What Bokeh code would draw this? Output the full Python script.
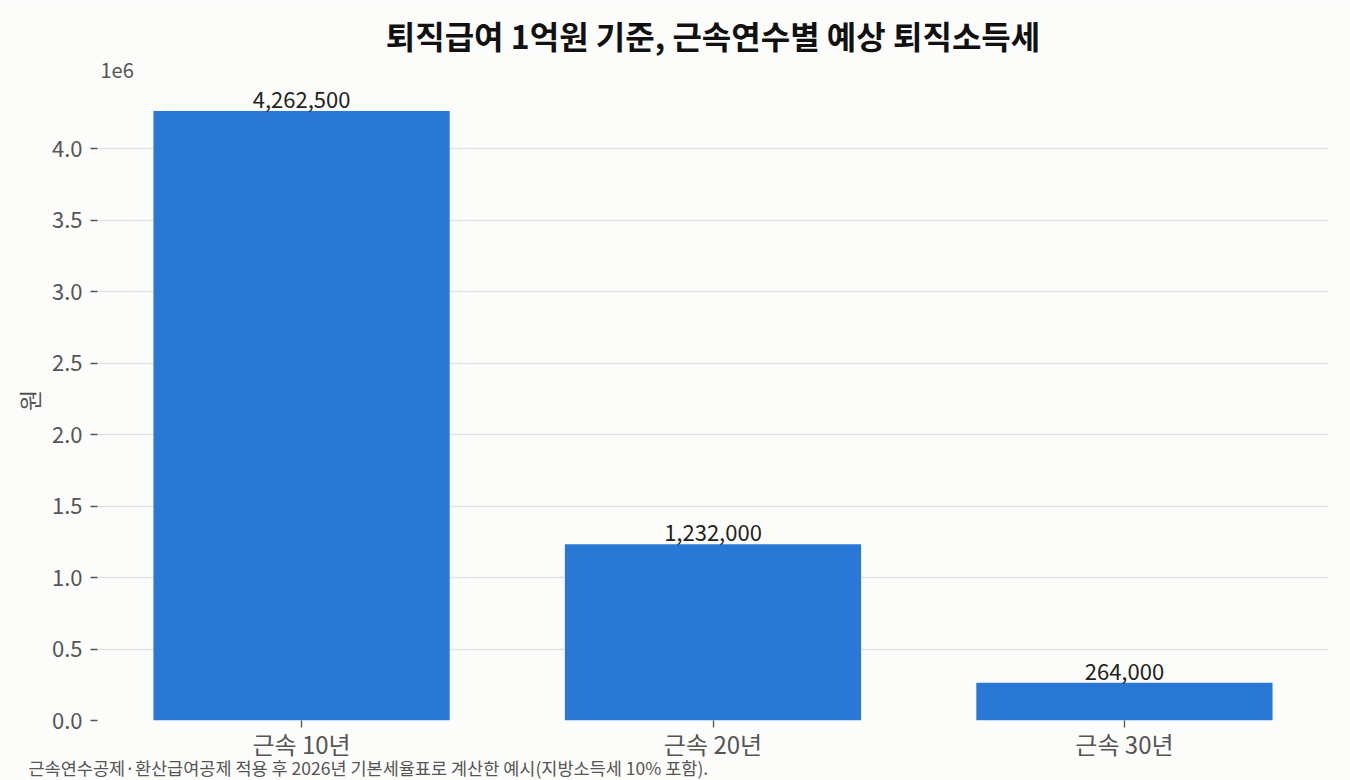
from bokeh.plotting import figure
from bokeh.models import Range1d, FixedTicker, Title
from bokeh.embed import file_html
from bokeh.resources import INLINE
from bokeh.core.properties import value

# ---- data ----
categories = ["근속 10년", "근속 20년", "근속 30년"]
tax_values = [4262500, 1232000, 264000]
y_ticks = [0, 500000, 1000000, 1500000, 2000000, 2500000, 3000000, 3500000, 4000000]
y_tick_labels = ["0.0", "0.5", "1.0", "1.5", "2.0", "2.5", "3.0", "3.5", "4.0"]
title_text = "퇴직급여 1억원 기준, 근속연수별 예상 퇴직소득세"
y_label = "원"
offset_text = "1e6"
footnote = "근속연수공제·환산급여공제 적용 후 2026년 기본세율표로 계산한 예시(지방소득세 10% 포함)."

FONT = "Noto Sans CJK KR"
BG = "#fcfcfa"
BAR = "#2a78d6"

W, H = 1350, 780
ML, MR, MT, MB = 97, 22, 80, 60
xs = list(range(len(categories)))
bar_w = 0.72
xpad = 0.05 * (len(categories) - 1 + bar_w)
x0, x1 = -bar_w / 2 - xpad, len(categories) - 1 + bar_w / 2 + xpad
ytop = max(tax_values) * 1.05

p = figure(width=W, height=H, output_backend="svg", toolbar_location=None,
           x_range=Range1d(x0, x1), y_range=Range1d(0, ytop),
           min_border_left=ML, min_border_right=MR, min_border_top=MT, min_border_bottom=MB)
p.background_fill_color = BG
p.border_fill_color = BG
p.outline_line_color = None

p.vbar(x=xs, top=tax_values, width=bar_w, color=BAR, line_color=None)

p.text(x=xs, y=tax_values, text=["{:,}".format(v) for v in tax_values],
       text_align="center", text_baseline="bottom", y_offset=-3,
       text_font=value(FONT), text_font_size="22px", text_color="#222222")

# axes
p.xaxis.ticker = FixedTicker(ticks=xs)
p.xaxis.major_label_overrides = {i: c for i, c in zip(xs, categories)}
p.yaxis.ticker = FixedTicker(ticks=y_ticks)
p.yaxis.major_label_overrides = {t: l for t, l in zip(y_ticks, y_tick_labels)}
for ax in (p.xaxis, p.yaxis):
    ax.axis_line_color = None
    ax.major_tick_line_color = "#555555"
    ax.major_tick_line_width = 1.3
    ax.major_tick_out = 7
    ax.major_tick_in = 0
    ax.minor_tick_line_color = None
    ax.major_label_text_font = FONT
    ax.major_label_text_color = "#555555"
p.yaxis.major_label_text_font_size = "22px"
p.xaxis.major_label_text_font_size = "24px"
p.yaxis.major_label_standoff = 8
p.xaxis.major_label_standoff = -2
p.yaxis.axis_label = y_label
p.yaxis.axis_label_text_font = FONT
p.yaxis.axis_label_text_font_style = "normal"
p.yaxis.axis_label_text_font_size = "23px"
p.yaxis.axis_label_text_color = "#555555"
p.yaxis.axis_label_standoff = 3

p.xgrid.grid_line_color = None
p.ygrid.grid_line_color = "#e2e2e2"
p.ygrid.grid_line_width = 1.5

# texts outside the frame
p.add_layout(Title(text=offset_text, align="left", offset=3, standoff=5,
                   text_font=FONT, text_font_size="20px", text_font_style="normal",
                   text_color="#555555"), "above")
p.add_layout(Title(text=title_text, align="center", standoff=2,
                   text_font=FONT, text_font_size="32px", text_font_style="bold",
                   text_color="#111111"), "above")
p.add_layout(Title(text=footnote, align="left", offset=-69, standoff=-18,
                   vertical_align="top",
                   text_font=FONT, text_font_size="17.5px", text_font_style="normal",
                   text_color="#555555"), "below")

html = file_html(p, INLINE)
html = html.replace("<body>", '<body style="background:%s">' % BG, 1)
open("out.html", "w").write(html)
